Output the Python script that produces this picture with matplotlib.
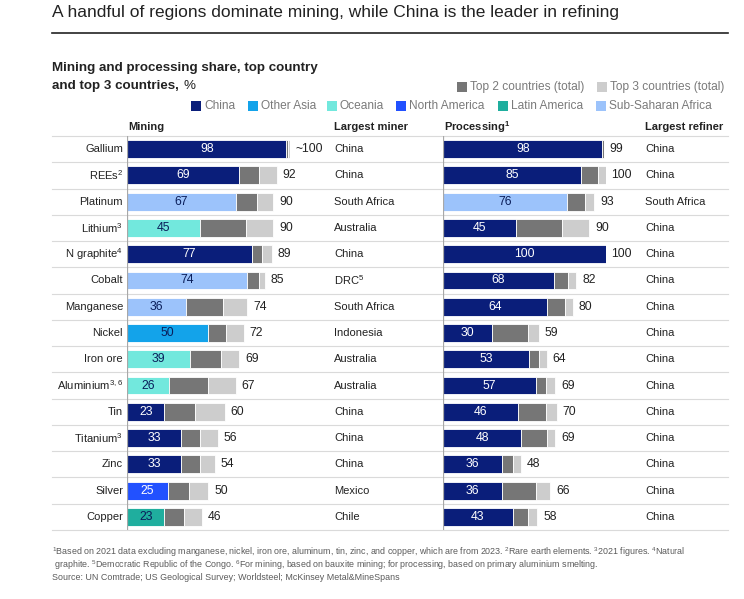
import matplotlib.pyplot as plt
import numpy as np

plt.rcParams['font.family'] = ['Liberation Sans', 'DejaVu Sans']
plt.rcParams['mathtext.fontset'] = 'custom'
plt.rcParams['mathtext.rm'] = 'Liberation Sans'
plt.rcParams['mathtext.default'] = 'regular'

# data
minerals = ['Gallium', 'REEs$^2$', 'Platinum', 'Lithium$^3$', 'N graphite$^4$', 'Cobalt',
            'Manganese', 'Nickel', 'Iron ore', 'Aluminium$^{3,6}$', 'Tin', 'Titanium$^3$',
            'Zinc', 'Silver', 'Copper']

mining_top1 = [98, 69, 67, 45, 77, 74, 36, 50, 39, 26, 23, 33, 33, 25, 23]
mining_top2 = [99, 81, 80, 73, 83, 81, 59, 61, 58, 50, 42, 45, 45, 38, 35]
mining_top3 = [100, 92, 90, 90, 89, 85, 74, 72, 69, 67, 60, 56, 54, 50, 46]
mining_total_labels = ['~100', '92', '90', '90', '89', '85', '74', '72', '69', '67',
                       '60', '56', '54', '50', '46']
mining_region = ['China', 'China', 'Sub-Saharan Africa', 'Oceania', 'China',
                 'Sub-Saharan Africa', 'Sub-Saharan Africa', 'Other Asia', 'Oceania',
                 'Oceania', 'China', 'China', 'China', 'North America', 'Latin America']
largest_miner = ['China', 'China', 'South Africa', 'Australia', 'China', 'DRC$^5$',
                 'South Africa', 'Indonesia', 'Australia', 'Australia', 'China', 'China',
                 'China', 'Mexico', 'Chile']

proc_top1 = [98, 85, 76, 45, 100, 68, 64, 30, 53, 57, 46, 48, 36, 36, 43]
proc_top2 = [99, 95, 87, 73, 100, 77, 75, 52, 59, 63, 63, 64, 43, 57, 52]
proc_top3 = [99, 100, 93, 90, 100, 82, 80, 59, 64, 69, 70, 69, 48, 66, 58]
proc_total_labels = [str(v) for v in proc_top3]
proc_region = ['China', 'China', 'Sub-Saharan Africa'] + ['China'] * 12
largest_refiner = ['China', 'China', 'South Africa'] + ['China'] * 12

region_colors = {
    'China': '#0a1e7a',
    'Other Asia': '#13a3ea',
    'Oceania': '#72e8dd',
    'North America': '#2251ff',
    'Latin America': '#1fae9e',
    'Sub-Saharan Africa': '#9cc3fb',
}
white_label = ['China', 'North America']
top2_color = '#767676'
top3_color = '#cdcdcd'
txt = '#222222'
grey_txt = '#7a7a7a'

W, H = 744, 599
fig = plt.figure(figsize=(W / 100, H / 100), dpi=100)

# background axes in pixel coordinates for texts and rules
bg = fig.add_axes([0, 0, 1, 1])
bg.set_xlim(0, W)
bg.set_ylim(H, 0)
bg.axis('off')

top, bottom = 136, 530
n = len(minerals)
row_h = (bottom - top) / n
scale = 1.627  # px per percentage point

bg.text(52, 12, 'A handful of regions dominate mining, while China is the leader in refining',
        fontsize=12.5, color=txt, va='center', ha='left')
bg.plot([52, 728], [33, 33], color='#222222', lw=1.2)

bg.text(52, 68, 'Mining and processing share, top country', fontsize=9.6, fontweight='bold',
        color=txt, va='center')
bg.text(52, 86, 'and top 3 countries,', fontsize=9.6, fontweight='bold', color=txt, va='center')
bg.text(183, 86, '%', fontsize=9.6, color=txt, va='center')

# legend
def legend_item(x, y, color, label):
    bg.add_patch(plt.Rectangle((x, y - 5), 10, 10, color=color, lw=0))
    bg.text(x + 13, y, label, fontsize=8.6, color=grey_txt, va='center', ha='left')

legend_item(457, 87, top2_color, 'Top 2 countries (total)')
legend_item(597, 87, top3_color, 'Top 3 countries (total)')
leg_x = [191, 248, 327, 396, 498, 596]
for x, (name, col) in zip(leg_x, region_colors.items()):
    legend_item(x, 106, col, name)

# column headers
hy = 127
bg.text(128, hy, 'Mining', fontsize=8, fontweight='bold', color=txt, va='center')
bg.text(334, hy, 'Largest miner', fontsize=8, fontweight='bold', color=txt, va='center')
bg.text(444, hy, 'Processing$^1$', fontsize=8, fontweight='bold', color=txt, va='center')
bg.text(645, hy, 'Largest refiner', fontsize=8, fontweight='bold', color=txt, va='center')

# row rules
for k in range(n + 1):
    y = top + k * row_h
    bg.plot([52, 728], [y, y], color='#dadada', lw=0.8)

for i in range(n):
    yc = top + (i + 0.5) * row_h
    bg.text(123, yc, minerals[i], fontsize=8, color=txt, ha='right', va='center')
    bg.text(334, yc, largest_miner[i], fontsize=8, color=txt, ha='left', va='center')
    bg.text(645, yc, largest_refiner[i], fontsize=8, color=txt, ha='left', va='center')


def draw_panel(x0, top1, top2, top3, regions, total_labels):
    ax = fig.add_axes([x0 / W, 1 - bottom / H, 100 * scale / W, (bottom - top) / H])
    ax.patch.set_alpha(0)
    t1 = np.array(top1)
    t2 = np.array(top2)
    t3 = np.array(top3)
    y = np.arange(n)
    ax.barh(y, t1, height=0.68, color=[region_colors[r] for r in regions],
            edgecolor='white', linewidth=0.6)
    ax.barh(y, t2 - t1, left=t1, height=0.68, color=top2_color,
            edgecolor='white', linewidth=0.6)
    ax.barh(y, t3 - t2, left=t2, height=0.68, color=top3_color,
            edgecolor='white', linewidth=0.6)
    for i in range(n):
        lc = 'white' if regions[i] in white_label else '#0a1e5a'
        ax.text(t1[i] / 2, i, str(t1[i]), ha='center', va='center', fontsize=8.8, color=lc)
        ax.text(t3[i] + 3.5, i, total_labels[i], ha='left', va='center', fontsize=8.8,
                color=txt, clip_on=False)
    ax.axvline(0, color='#a8a8a8', lw=0.9)
    ax.set_xlim(0, 100)
    ax.set_ylim(n - 0.5, -0.5)
    ax.axis('off')
    return ax


ax_m = draw_panel(127, mining_top1, mining_top2, mining_top3, mining_region, mining_total_labels)
ax_p = draw_panel(443, proc_top1, proc_top2, proc_top3, proc_region, proc_total_labels)

# footnotes
fn = ('$^1$Based on 2021 data excluding manganese, nickel, iron ore, aluminum, tin, zinc, and copper, '
      'which are from 2023. $^2$Rare earth elements. $^3$2021 figures. $^4$Natural')
fn2 = (' graphite. $^5$Democratic Republic of the Congo. $^6$For mining, based on bauxite mining; '
       'for processing, based on primary aluminium smelting.')
fn3 = 'Source: UN Comtrade; US Geological Survey; Worldsteel; McKinsey Metal&MineSpans'
bg.text(52, 552, fn, fontsize=6.4, color='#5a5a5a', va='center')
bg.text(52, 565, fn2, fontsize=6.4, color='#5a5a5a', va='center')
bg.text(52, 578, fn3, fontsize=6.4, color='#5a5a5a', va='center')

fig.savefig('out.png', dpi=100)
